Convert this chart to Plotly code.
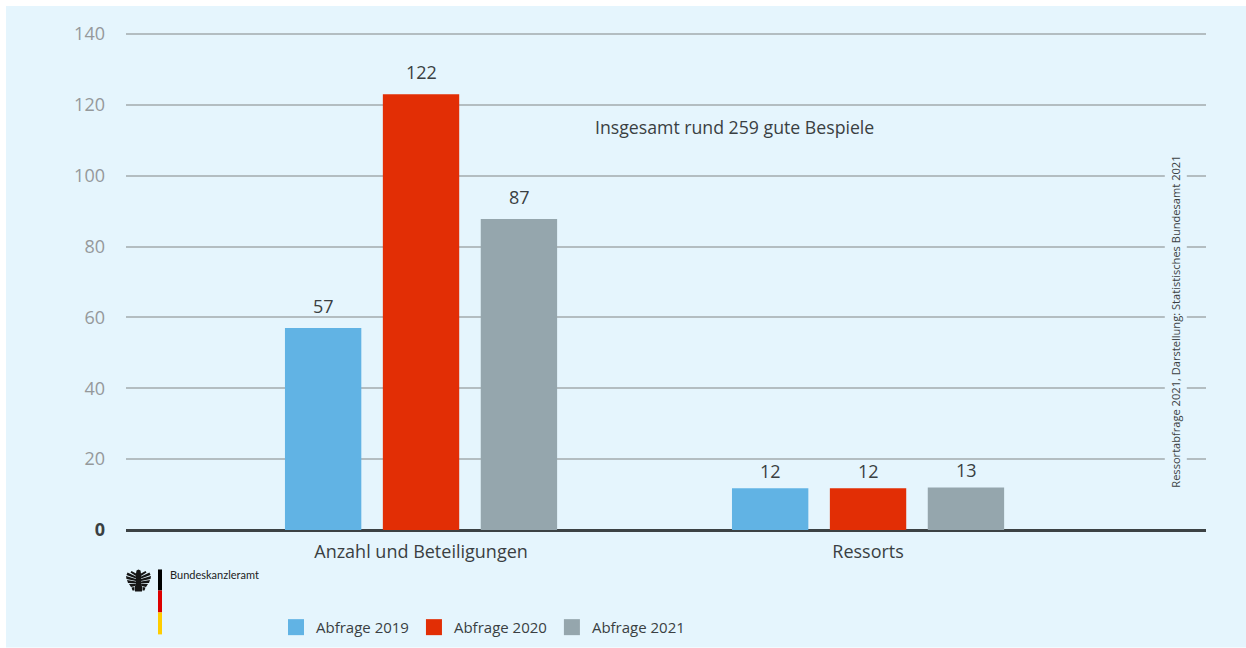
import plotly.graph_objects as go

categories = ["Anzahl und Beteiligungen", "Ressorts"]
abfrage_2019 = [57, 11.8]
abfrage_2020 = [123, 11.8]
abfrage_2021 = [87.8, 12]
labels_2019 = ["57", "12"]
labels_2020 = ["122", "12"]
labels_2021 = ["87", "13"]
y_ticks = [0, 20, 40, 60, 80, 100, 120, 140]
y_labels = ['<b style="color:#3a3f42">0</b>', "20", "40", "60", "80", "100", "120", "140"]

FONT = "Open Sans"
DARK = "#3a3f42"
PANEL = "#e5f5fd"
W, H = 1246, 648
L, R, T, B = 126, 1206, 32, 530.5
Y_TOP = 140 * (B - T) / (B - 34)


def px(x):
    return (x - L) / (R - L)


def py(y):
    return (B - y) / (B - T)


fig = go.Figure()
series = [
    ("Abfrage 2019", abfrage_2019, labels_2019, "#61b3e4", -98),
    ("Abfrage 2020", abfrage_2020, labels_2020, "#e22e05", 0),
    ("Abfrage 2021", abfrage_2021, labels_2021, "#95a6ad", 98),
]
value_labels = []
for name, vals, labs, col, shift in series:
    fig.add_trace(go.Bar(name=name, x=categories, y=vals, marker_color=col,
                         marker_line_width=0, showlegend=False))
    # legend key with a larger square than bar traces allow
    fig.add_trace(go.Scatter(name=name, x=[None], y=[None], mode="markers",
                             marker=dict(symbol="square", size=16, color=col)))
    for cat, v, lab, ys in zip(categories, vals, labs, (22, 17)):
        value_labels.append(dict(x=cat, y=v, text=lab, showarrow=False, xshift=shift, yshift=ys,
                                 font=dict(size=18, color=DARK, family=FONT)))

shapes = [
    dict(type="rect", xref="paper", yref="paper", x0=px(6), x1=px(1246), y0=py(648), y1=py(6),
         fillcolor=PANEL, line_width=0, layer="below"),
]
for c, y0, y1 in [("#000000", 570, 591), ("#dd0000", 591, 613), ("#ffcc00", 613, 635)]:
    shapes.append(dict(type="rect", xref="paper", yref="paper", x0=px(158), x1=px(162),
                       y0=py(y1), y1=py(y0), fillcolor=c, line_width=0))


def pts(points):
    return "M" + " L".join(f"{px(a):.5f},{py(b):.5f}" for a, b in points) + " Z"


# small eagle emblem: body, head, tail and feathered wings
body = [(136, 574), (136.5, 571), (138.5, 570), (140.5, 571), (141, 574), (141, 584), (142, 587),
        (142, 592), (135, 592), (135, 587), (136, 584)]
emblem = [body]
for side in (-1, 1):
    c = 138.5
    for top_in, top_out, bot_out, bot_in in [
        ((2.5, 574), (7, 571.5), (8, 573), (2.5, 576.5)),
        ((2.5, 577), (11, 573), (12, 575.5), (2.5, 579)),
        ((2.5, 579.5), (12.5, 576.5), (12, 579.5), (2.5, 581.5)),
        ((2.5, 582), (11.5, 580.5), (10.5, 583.5), (2.5, 584)),
        ((2.5, 584.5), (9.5, 584.5), (7.5, 587.5), (3, 586.5)),
        ((4, 587.5), (7, 588), (6, 591), (4, 591)),
    ]:
        emblem.append([(c + side * a, b) for a, b in (top_in, top_out, bot_out, bot_in)])
for poly in emblem:
    shapes.append(dict(type="path", xref="paper", yref="paper", path=pts(poly),
                       fillcolor="#151515", line_width=0))

annotations = value_labels + [
    dict(text="Insgesamt rund 259 gute Bespiele", xref="paper", yref="paper", x=px(734), y=py(127),
         xanchor="center", yanchor="middle", showarrow=False,
         font=dict(size=17.7, color=DARK, family=FONT)),
    dict(text="Ressortabfrage 2021, Darstellung: Statistisches Bundesamt 2021", xref="paper", yref="paper",
         x=px(1175.5), y=py(322.5), xanchor="center", yanchor="middle", textangle=-90, showarrow=False,
         bgcolor=PANEL, borderpad=3, font=dict(size=11.1, color=DARK, family=FONT)),
    dict(text="Bundeskanzleramt", xref="paper", yref="paper", x=px(168), y=py(575), xanchor="left",
         yanchor="middle", showarrow=False,
         font=dict(size=11, color="#222222", family="Lato")),
]

fig.update_layout(
    width=W, height=H, autosize=False,
    margin=dict(l=L, r=W - R, t=T, b=H - B, pad=0, autoexpand=False),
    paper_bgcolor="#ffffff", plot_bgcolor="rgba(0,0,0,0)",
    font=dict(family=FONT, color=DARK, size=16),
    barmode="group", bargap=0.343, bargroupgap=0.22,
    showlegend=True,
    legend=dict(orientation="h", x=px(276), y=py(628), xanchor="left", yanchor="middle",
                font=dict(size=15, color=DARK, family=FONT), bgcolor="rgba(0,0,0,0)"),
    shapes=shapes, annotations=annotations,
    xaxis=dict(range=[-0.66, 1.756], showgrid=False, showline=False, zeroline=False,
               ticks="", tickfont=dict(size=18, color=DARK, family=FONT), ticklabelstandoff=9),
    yaxis=dict(range=[0, Y_TOP], tickvals=y_ticks, ticktext=y_labels, gridcolor="#b3bdc1", gridwidth=1.5,
               zeroline=True, zerolinecolor="#3c4244", zerolinewidth=2.5, showline=False,
               ticks="", ticklabelstandoff=20, tickfont=dict(size=18, color="#95999b", family=FONT)),
)

fig.write_html("out.html", config={"displayModeBar": False},
               post_script="document.body.style.margin='0';document.body.style.overflow='hidden';")
